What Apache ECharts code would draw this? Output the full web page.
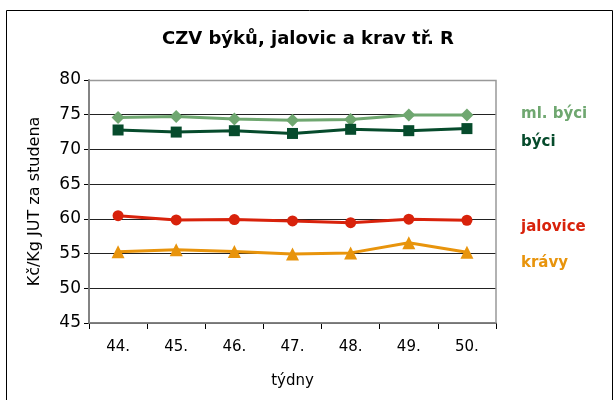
<!DOCTYPE html>
<html>
<head>
<meta charset="utf-8">
<script src="https://cdn.jsdelivr.net/npm/echarts@6/dist/echarts.min.js"></script>
<style>
  html, body { margin: 0; padding: 0; background: #fff; }
  #chart { width: 616px; height: 400px; }
</style>
</head>
<body>
<div id="chart"></div>
<script>
// týdny
var weeks = ['44.', '45.', '46.', '47.', '48.', '49.', '50.'];
var mlByci = [74.6, 74.75, 74.4, 74.2, 74.3, 74.95, 74.95];
var byci = [72.8, 72.5, 72.7, 72.3, 72.9, 72.7, 73.0];
var jalovice = [60.45, 59.85, 59.9, 59.7, 59.45, 59.95, 59.8];
var kravy = [55.25, 55.55, 55.3, 54.95, 55.1, 56.55, 55.2];
var yTicks = [45, 50, 55, 60, 65, 70, 75, 80];

var font = '"DejaVu Sans", Verdana, sans-serif';

var seriesDefs = [
    { name: 'ml. býci', data: mlByci, color: '#6fa770', symbol: 'diamond', size: 13, labelTop: 107 },
    { name: 'býci', data: byci, color: '#064b2c', symbol: 'rect', size: 11, labelTop: 135 },
    { name: 'jalovice', data: jalovice, color: '#d8220b', symbol: 'circle', size: 11, labelTop: 220 },
    { name: 'krávy', data: kravy, color: '#e8940c', symbol: 'triangle', size: 13, labelTop: 256 }
];

var chart = echarts.init(document.getElementById('chart'));

var graphics = [
    { type: 'rect', shape: { x: 6.5, y: 10.5, width: 606, height: 400 },
      style: { fill: 'none', stroke: '#000', lineWidth: 1 }, z: 0 },
    { type: 'rect', shape: { x: 89, y: 80.5, width: 407, height: 242.5 },
      style: { fill: 'none', stroke: '#999', lineWidth: 1.5 }, z: 1 }
];
seriesDefs.forEach(function (s) {
    graphics.push({
        type: 'text', left: 521, top: s.labelTop,
        style: { text: s.name, fill: s.color, font: 'bold 15px ' + font }
    });
});

chart.setOption({
    animation: false,
    title: {
        text: 'CZV býků, jalovic a krav tř. R',
        left: 'center', top: 25,
        textStyle: { fontFamily: font, fontSize: 18, fontWeight: 'bold', color: '#000' }
    },
    grid: { left: 89, right: 120, top: 80, bottom: 77 },
    xAxis: {
        type: 'category',
        data: weeks,
        boundaryGap: true,
        name: 'týdny',
        nameLocation: 'middle',
        nameGap: 51,
        nameTextStyle: { fontFamily: font, fontSize: 15, color: '#000' },
        axisLine: { lineStyle: { color: '#000', width: 1.5 } },
        axisTick: { show: true, alignWithLabel: false, length: 6, lineStyle: { color: '#000' } },
        axisLabel: { fontFamily: font, fontSize: 15, color: '#000', margin: 17 }
    },
    yAxis: {
        type: 'value',
        min: yTicks[0],
        max: yTicks[yTicks.length - 1],
        interval: 5,
        name: 'Kč/Kg JUT za studena',
        nameLocation: 'middle',
        nameGap: 46,
        nameTextStyle: { fontFamily: font, fontSize: 16, color: '#000' },
        axisLine: { show: true, lineStyle: { color: '#000', width: 1.5 } },
        axisTick: { show: true, length: 5, lineStyle: { color: '#000' } },
        axisLabel: { fontFamily: font, fontSize: 17, color: '#000', margin: 8 },
        splitLine: { show: true, lineStyle: { color: '#222', width: 1 } }
    },
    graphic: graphics,
    series: seriesDefs.map(function (s) {
        return {
            name: s.name,
            type: 'line',
            data: s.data,
            symbol: s.symbol,
            symbolSize: s.size,
            lineStyle: { color: s.color, width: 3 },
            itemStyle: { color: s.color },
            z: 3
        };
    })
});
</script>
</body>
</html>
